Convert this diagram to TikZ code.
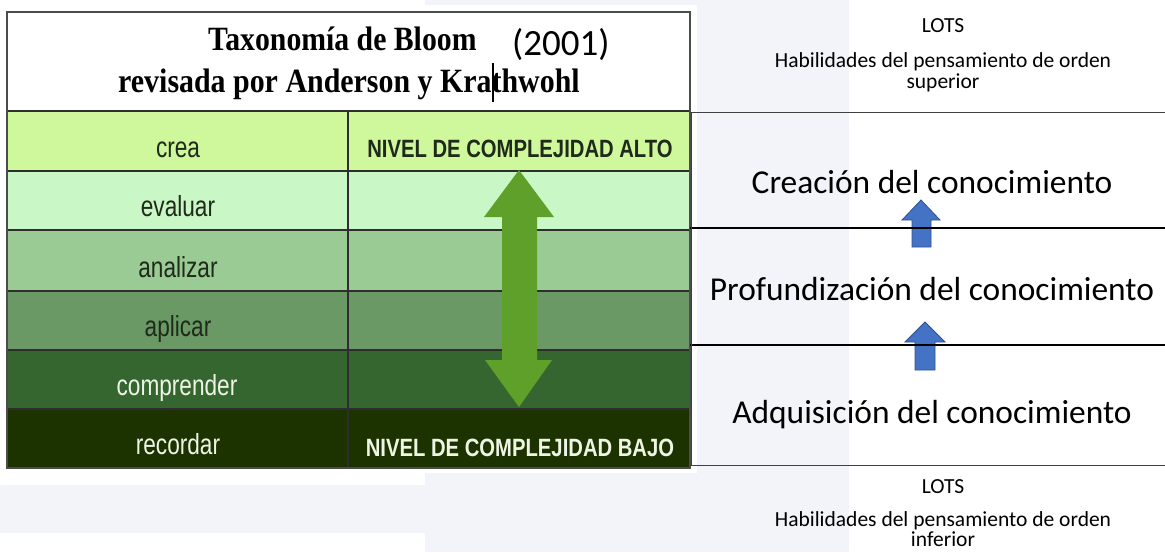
\documentclass[tikz,border=0pt]{standalone}
\usepackage{graphicx}
\usepackage{fontspec}
\setmainfont{Liberation Sans}
\newfontfamily\calib{Carlito}
\newfontfamily\tnr{Liberation Serif}
\newfontfamily\arial{Liberation Sans}
\newcommand\condx[2]{\scalebox{#1}[1]{#2}}
\definecolor{bgl}{HTML}{F3F4F9}
\definecolor{cCrea}{HTML}{CFF79B}
\definecolor{cEval}{HTML}{C9F7C6}
\definecolor{cAnal}{HTML}{9ACB94}
\definecolor{cApli}{HTML}{6A9965}
\definecolor{cComp}{HTML}{36662F}
\definecolor{cReco}{HTML}{1C3300}
\definecolor{darktxt}{HTML}{1F2A1A}
\definecolor{lighttxt}{HTML}{EEF5E6}
\definecolor{garrow}{HTML}{5FA02A}
\definecolor{bfill}{HTML}{4472C4}
\definecolor{bline}{HTML}{2F528F}
\definecolor{gridc}{HTML}{2E2E2E}
\tikzset{
  grid/.style={draw=gridc, line width=1.1pt},
  lab/.style={font=\arial\fontsize{29}{32}\selectfont, anchor=base, inner sep=0pt},
  lvl/.style={font=\arial\bfseries\fontsize{25}{28}\selectfont, anchor=base, inner sep=0pt},
  ttl/.style={font=\tnr\bfseries\fontsize{34}{36}\selectfont, anchor=base west, inner sep=0pt, text=black},
  big/.style={font=\calib\fontsize{33.4}{38}\selectfont, anchor=base, inner sep=0pt, text=black},
  small/.style={font=\calib\fontsize{21.5}{24}\selectfont, anchor=base, inner sep=0pt, text=black},
  thinl/.style={draw=black!75, line width=1pt},
  thickl/.style={draw=black, line width=2.2pt},
  barrow/.style={fill=bfill, draw=bline, line width=0.8pt},
}
\begin{document}
\begin{tikzpicture}[x=1pt,y=-1pt]
\useasboundingbox (0,0) rectangle (1165,552);
% backgrounds
\fill[bgl] (425,0) rectangle (849,552);
\fill[bgl] (0,485) rectangle (425,533);
\fill[white] (0,5) rectangle (697,473);
% table rows
\fill[cCrea] (7,111) rectangle (690,171);
\fill[cEval] (7,171) rectangle (690,230);
\fill[cAnal] (7,230) rectangle (690,291);
\fill[cApli] (7,291) rectangle (690,350);
\fill[cComp] (7,350) rectangle (690,409);
\fill[cReco] (7,409) rectangle (690,468);
% grid
\foreach \yy in {111,171,230,291,350,409}{\draw[grid] (7,\yy) -- (690,\yy);}
\draw[grid] (348,111) -- (348,468);
\draw[grid, draw=black!70] (7,12) rectangle (690,468);
% title
\node[ttl] (t1) at (208,50) {\condx{0.875}{Taxonomía de Bloom}};
\node[font=\calib\fontsize{37}{40}\selectfont, anchor=base west, inner sep=0pt] (yr) at (512,55) {(2001)};
\node[ttl] (t2) at (118,92) {\condx{0.88}{revisada por Anderson y Krathwohl}};
\draw[black, line width=1.2pt] (493,63) -- (493,102);
% labels
\node[lab, text=darktxt] (crea) at (178,157) {\condx{0.78}{crea}};
\node[lab, text=darktxt] (eval) at (178,216) {\condx{0.78}{evaluar}};
\node[lab, text=darktxt] (anal) at (178,277) {\condx{0.78}{analizar}};
\node[lab, text=darktxt] (apli) at (178,336) {\condx{0.78}{aplicar}};
\node[lab, text=lighttxt] (comp) at (177,395) {\condx{0.78}{comprender}};
\node[lab, text=lighttxt] (reco) at (178,454) {\condx{0.78}{recordar}};
\node[lvl, text=darktxt] (alto) at (520,157) {\condx{0.81}{NIVEL DE COMPLEJIDAD ALTO}};
\node[lvl, text=lighttxt] (bajo) at (520,456) {\condx{0.81}{NIVEL DE COMPLEJIDAD BAJO}};
% green double arrow
\fill[garrow] (519,170) -- (554,217) -- (537,217) -- (537,360) -- (552,360) -- (519,407) -- (485,360) -- (502,360) -- (502,217) -- (484,217) -- cycle;
% right side texts
\node[small] (lots1) at (943,32) {LOTS};
\node[small] (hab1) at (943,67) {Habilidades del pensamiento de orden};
\node[small] (sup) at (943,88) {superior};
\node[big] (crea2) at (932,193) {Creación del conocimiento};
\node[big] (prof) at (932,300) {Profundización del conocimiento};
\node[big] (adq) at (932,423) {Adquisición del conocimiento};
\node[small] (lots2) at (943,493) {LOTS};
\node[small] (hab2) at (943,526) {Habilidades del pensamiento de orden};
\node[small] (inf) at (943,546) {inferior};
% blue arrows
\filldraw[barrow] (921,200) -- (940,220) -- (931,220) -- (931,247) -- (912,247) -- (912,220) -- (902,220) -- cycle;
\filldraw[barrow] (925,322) -- (945,342) -- (935,342) -- (935,370) -- (915,370) -- (915,342) -- (905,342) -- cycle;
% right side separators
\draw[thinl] (690,112) -- (1165,112);
\draw[thickl] (690,228) -- (1165,228);
\draw[thickl] (690,345) -- (1165,345);
\draw[thinl] (690,465) -- (1165,465);
\draw[thinl] (691,112) -- (691,465);
\end{tikzpicture}
\end{document}
